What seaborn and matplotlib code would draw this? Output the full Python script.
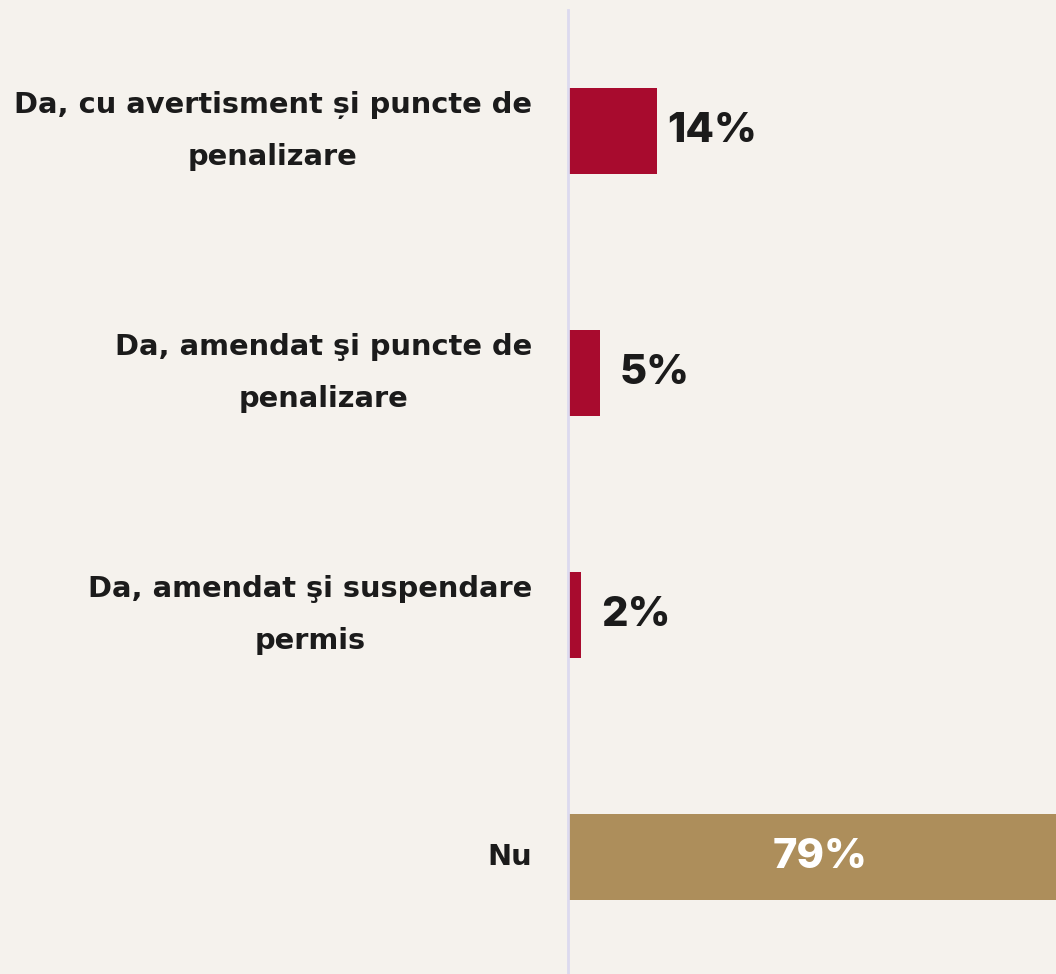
import pandas as pd
import seaborn as sns
from matplotlib import pyplot as plt

# data
CATEGORIES = [
    "Da, cu avertisment și puncte de\npenalizare",
    "Da, amendat şi puncte de\npenalizare",
    "Da, amendat şi suspendare\npermis",
    "Nu",
]
VALUES = [14, 5, 2, 79]
GROUPS = ["da", "da", "da", "nu"]

BG = "#f5f2ed"
PALETTE = {"da": "#a80b2e", "nu": "#ad8e5b"}
TEXT = "#1b1b1b"

df = pd.DataFrame({"cat": CATEGORIES, "val": VALUES, "grp": GROUPS})

sns.set_style("white")
plt.rcParams["font.family"] = ["Inter", "DejaVu Sans"]

fig = plt.figure(figsize=(10.56, 9.74), dpi=100)
fig.patch.set_facecolor(BG)
ax = fig.add_axes([568 / 1056, -4 / 974, 1 - 568 / 1056, 968 / 974])
ax.set_facecolor(BG)

sns.barplot(data=df, x="val", y="cat", hue="grp", palette=PALETTE,
            dodge=False, width=0.357, legend=False, saturation=1,
            linewidth=0, ax=ax)

ax.set_xlim(0, 487 / 6.36)
ax.set_ylim(3.5, -0.5)
ax.set_xlabel("")
ax.set_ylabel("")
ax.set_xticks([])
for s in ["top", "right", "bottom"]:
    ax.spines[s].set_visible(False)
ax.spines["left"].set_color("#dcdaef")
ax.spines["left"].set_linewidth(2)

ax.tick_params(axis="y", length=0, pad=26)
for lab in ax.get_yticklabels():
    lab.set_fontsize(20.8)
    lab.set_family("DejaVu Sans")
    lab.set_fontweight("bold")
    lab.set_color(TEXT)
    lab.set_multialignment("center")
    lab.set_linespacing(2.05)
    lab.set_verticalalignment("center")

for i, v in enumerate(VALUES):
    if v > 50:
        ax.text(v / 2, i, f"{v}%", ha="center", va="center", fontsize=30,
                fontweight="heavy", color="white")
    else:
        ax.annotate(f"{v}%", (v, i), xytext=(55, 0), textcoords="offset pixels",
                    ha="center", va="center", fontsize=30, fontweight="heavy",
                    color=TEXT)

plt.savefig("out.png", dpi=100, facecolor=BG)
